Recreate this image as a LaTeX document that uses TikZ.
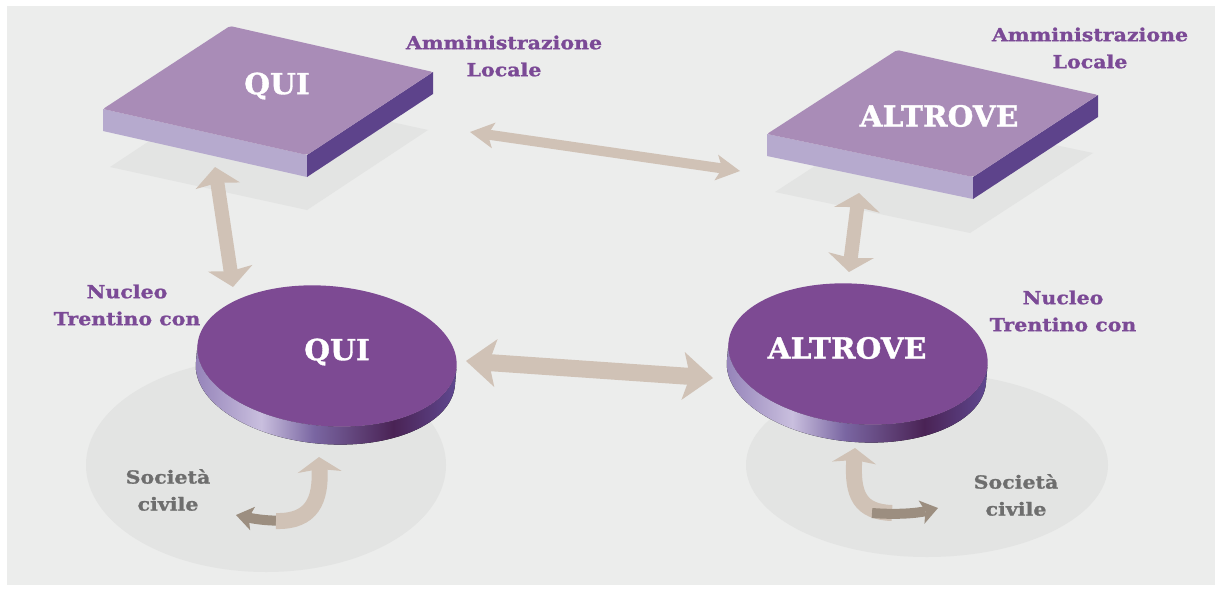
\documentclass[tikz,border=0pt]{standalone}
\usepackage{fontspec}
\setmainfont{DejaVu Serif}
\newfontfamily\slabwide{DejaVu Serif}[FakeStretch=1.14, BoldFeatures={FakeBold=1.2}]
\newfontfamily\slabbig{DejaVu Serif}[FakeStretch=1.02, BoldFeatures={FakeBold=1.2}]
\usetikzlibrary{arrows.meta}
\definecolor{pagebg}{HTML}{ECEDEC}
\definecolor{shadowc}{HTML}{E3E4E3}
\definecolor{slabtop}{HTML}{A98CB7}
\definecolor{slabfront}{HTML}{B6AACE}
\definecolor{slabright}{HTML}{5D438B}
\definecolor{disctop}{HTML}{7D4A93}
\definecolor{sideA}{HTML}{9381B8}
\definecolor{sideB}{HTML}{C9BFDE}
\definecolor{sideC}{HTML}{7A66A2}
\definecolor{sideD}{HTML}{4A2355}
\definecolor{sideE}{HTML}{5F4890}
\definecolor{arrowc}{HTML}{D0C2B6}
\definecolor{arrowdark}{HTML}{9C8E80}
\definecolor{labelc}{HTML}{7B4A96}
\definecolor{greytext}{HTML}{6E6E6E}
\pgfdeclarehorizontalshading{discside}{100bp}{color(0bp)=(sideA); color(25bp)=(sideA); color(38bp)=(sideB); color(48bp)=(sideC); color(63bp)=(sideD); color(75bp)=(sideE); color(100bp)=(sideE)}
\tikzset{
  bigtext/.style={text=white, font=\slabbig\fontsize{29}{31}\selectfont\bfseries, inner sep=0pt},
  labeltext/.style={text=labelc, font=\slabwide\fontsize{18}{27}\selectfont\bfseries, align=center, inner sep=0pt},
  civtext/.style={text=greytext, font=\slabwide\fontsize{18}{27}\selectfont\bfseries, align=center, inner sep=0pt},
  shadowfill/.style={fill=shadowc},
  beige/.style={draw=arrowc, line width=#1},
  darkarr/.style={draw=arrowdark, line width=#1},
  slabtopface/.style={fill=slabtop},
  slabfrontface/.style={fill=slabfront},
  slabrightface/.style={fill=slabright},
}
\newcommand\drawdisc[4]{%
  \begin{scope}[shift={(#1,#2)}, rotate=-5]
    \fill[shading=discside] (130,0) arc[start angle=0,end angle=180,x radius=130,y radius=70]
      -- (-130,18) arc[start angle=180,end angle=0,x radius=130,y radius=70] -- cycle;
    \fill[disctop] (0,0) ellipse[x radius=130, y radius=70];
  \end{scope}
  \node[bigtext] (#3) at (#1,#2) {#4};
}
\begin{document}
\begin{tikzpicture}[x=1pt,y=-1pt]
\useasboundingbox (0,0) rectangle (1222,591);
\fill[white] (0,0) rectangle (1222,591);
\fill[pagebg] (7,6) rectangle (1215,585);
% society shadows
\fill[shadowfill] (266,465) ellipse[x radius=180, y radius=107];
\fill[shadowfill] (927,465) ellipse[x radius=181, y radius=92];
% slab shadows
\fill[shadowfill] (110,167) -- (307,210) -- (428,130) -- (231,87) -- cycle;
\fill[shadowfill] (775,192) -- (970,233) -- (1093,153) -- (898,112) -- cycle;
% arrow coordinates
\coordinate (ta1) at (470,132);
\coordinate (ta2) at (740,171);
\coordinate (ma1) at (466,361);
\coordinate (ma2) at (713,378);
\coordinate (lv1) at (215,167);
\coordinate (lv2) at (233,287);
\coordinate (rv1) at (859,193);
\coordinate (rv2) at (849,272);
% straight double arrows
\draw[beige=10, {Stealth[length=24pt,width=26pt,inset=6pt,line width=0pt]}-{Stealth[length=24pt,width=26pt,inset=6pt,line width=0pt]}] (ta1) -- (ta2);
\draw[beige=17, {Stealth[length=30pt,width=48pt,inset=7pt,line width=0pt]}-{Stealth[length=30pt,width=48pt,inset=7pt,line width=0pt]}] (ma1) -- (ma2);
\draw[beige=14, {Stealth[length=19pt,width=45pt,inset=3pt,line width=0pt]}-{Stealth[length=19pt,width=45pt,inset=3pt,line width=0pt]}] (lv1) -- (lv2);
\draw[beige=14, {Stealth[length=17pt,width=46pt,inset=3pt,line width=0pt]}-{Stealth[length=17pt,width=46pt,inset=3pt,line width=0pt]}] (rv1) -- (rv2);
% curved arrows left
\coordinate (lcd0) at (295,520);
\coordinate (lcd1) at (236,515);
\coordinate (lcb0) at (276,521);
\coordinate (lcb1) at (319,457);
\draw[darkarr=10, -{Stealth[length=17pt,width=24pt,inset=4pt,line width=0pt]}] (lcd0) .. controls (272,522) and (255,519) .. (lcd1);
\draw[beige=16, -{Stealth[length=15pt,width=44pt,inset=3pt,line width=0pt]}] (lcb0) .. controls (312,522) and (321,500) .. (lcb1);
% curved arrows right
\coordinate (rcb0) at (892,513);
\coordinate (rcb1) at (855,448);
\coordinate (rcd0) at (872,513);
\coordinate (rcd1) at (938,508);
\draw[beige=16, -{Stealth[length=15pt,width=44pt,inset=3pt,line width=0pt]}] (rcb0) .. controls (860,512) and (852,495) .. (rcb1);
\draw[darkarr=10, -{Stealth[length=17pt,width=24pt,inset=4pt,line width=0pt]}] (rcd0) .. controls (898,515) and (918,513) .. (rcd1);
% slab QUI
\fill[slabfrontface] (103,109) -- (307,155) -- (307,177) -- (103,131) -- cycle;
\fill[slabrightface] (307,155) -- (433,72) -- (433,94) -- (307,177) -- cycle;
\fill[slabtopface, rounded corners=2pt] (230,26) -- (433,72) -- (307,155) -- (103,109) -- cycle;
\node[bigtext] (slabqui) at (277,86) {QUI};
% slab ALTROVE
\fill[slabfrontface] (767,134) -- (973,177) -- (973,199) -- (767,156) -- cycle;
\fill[slabrightface] (973,177) -- (1098,95) -- (1098,117) -- (973,199) -- cycle;
\fill[slabtopface, rounded corners=2pt] (897,50) -- (1098,95) -- (973,177) -- (767,134) -- cycle;
\node[bigtext] (slabaltrove) at (939,116) {ALTROVE};
% discs
\drawdisc{327}{356}{discqui}{}
\node[bigtext] (discquitext) at (337,352) {QUI};
\drawdisc{858}{354}{discaltrove}{}
\node[bigtext] (discaltrovetext) at (847,348) {ALTROVE};
% labels
\node[labeltext] (amm1) at (504,56) {Amministrazione\\Locale};
\node[labeltext] (amm2) at (1090,48) {Amministrazione\\Locale};
\node[labeltext] (nuc1) at (127,305) {Nucleo\\Trentino con};
\node[labeltext] (nuc2) at (1063,311) {Nucleo\\Trentino con};
\node[civtext] (soc1) at (168,490) {Società\\civile};
\node[civtext] (soc2) at (1016,495) {Società\\civile};
\end{tikzpicture}
\end{document}
